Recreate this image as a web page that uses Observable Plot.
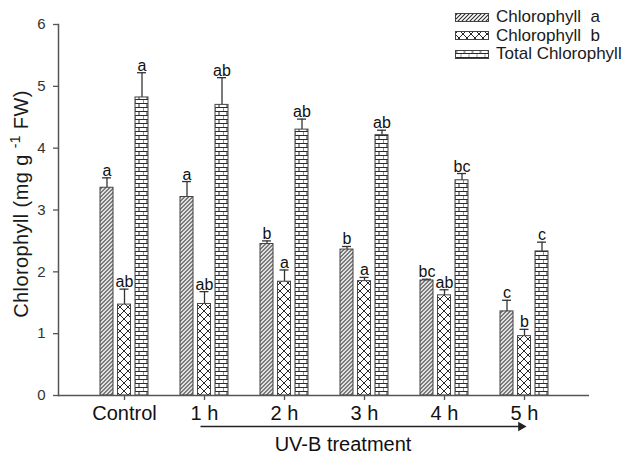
<!DOCTYPE html>
<html><head><meta charset="utf-8">
<script src="https://cdn.jsdelivr.net/npm/d3@7"></script>
<script src="https://cdn.jsdelivr.net/npm/@observablehq/plot@0.6"></script>
<style>
body{margin:0;background:#fff;font-family:"Liberation Sans",Arial,sans-serif;}
#wrap{position:relative;width:627px;height:456px;}
#legend{position:absolute;left:455px;top:8px;font-size:17px;color:#1a1a1a;}
.row{display:flex;align-items:center;height:18.5px;white-space:pre;}
.row svg{margin-right:7px;display:block;}
</style></head><body><div id="wrap"><div id="legend"></div></div>
<script>
// ---- data ----
const groups = ["Control", "1 h", "2 h", "3 h", "4 h", "5 h"];
const seriesNames = ["Chlorophyll  a", "Chlorophyll  b", "Total Chlorophyll"];
const chlA = [3.36, 3.21, 2.45, 2.36, 1.86, 1.36];
const chlAErr = [0.16, 0.25, 0.05, 0.05, 0.02, 0.18];
const chlALetters = ["a", "a", "b", "b", "bc", "c"];
const chlB = [1.47, 1.48, 1.84, 1.85, 1.62, 0.96];
const chlBErr = [0.25, 0.20, 0.19, 0.06, 0.09, 0.11];
const chlBLetters = ["ab", "ab", "a", "a", "ab", "b"];
const chlT = [4.82, 4.70, 4.30, 4.21, 3.48, 2.33];
const chlTErr = [0.40, 0.44, 0.17, 0.08, 0.11, 0.15];
const chlTLetters = ["a", "ab", "ab", "ab", "bc", "c"];
const yTicks = [0, 1, 2, 3, 4, 5, 6];
const yLabelParts = ["Chlorophyll (mg g ", "-1", " FW)"];
const xLabel = "UV-B treatment";

// ---- styling ----
const series = [
  {name: seriesNames[0], values: chlA, errs: chlAErr, letters: chlALetters, pattern: "pat-hatch", dx: -17.5},
  {name: seriesNames[1], values: chlB, errs: chlBErr, letters: chlBLetters, pattern: "pat-cross", dx: 0},
  {name: seriesNames[2], values: chlT, errs: chlTErr, letters: chlTLetters, pattern: "pat-brick", dx: 17.5}
];
const ink = "#333";

const seriesMarks = series.flatMap(s => {
  const rows = groups.map((g, j) => ({group: g, series: s.name, value: s.values[j], top: s.values[j] + s.errs[j], letter: s.letters[j]}));
  return [
    Plot.ruleX(rows, {x: "group", y1: "value", y2: "top", dx: s.dx, stroke: ink, strokeWidth: 1.3}),
    Plot.tickY(rows, {x: "group", y: "top", dx: s.dx, insetLeft: 19.5, insetRight: 19.5, stroke: ink, strokeWidth: 1.3}),
    Plot.barY(rows, {x: "group", y: "value", dx: s.dx, insetLeft: 17.5, insetRight: 17.5, fill: `url(#${s.pattern})`, stroke: "#444", strokeWidth: 1}),
    Plot.text(rows, {x: "group", y: "top", dx: s.dx, dy: -2, text: "letter", lineAnchor: "bottom", fontSize: 16, fill: "#111"})
  ];
});

const yLabelText = yLabelParts.join("");

const plot = Plot.plot({
  width: 627, height: 456,
  marginLeft: 58, marginRight: 38, marginTop: 24, marginBottom: 61,
  style: {fontFamily: "'Liberation Sans', Arial, sans-serif", fontSize: "15px", color: "#1a1a1a", background: "#fff"},
  x: {type: "band", domain: groups, paddingInner: 0.4, paddingOuter: 0.51875},
  y: {domain: [0, 6]},
  marks: [
    ...seriesMarks,
    Plot.ruleY([0], {stroke: "#555", strokeWidth: 1.5}),
    Plot.frame({anchor: "left", stroke: "#555", strokeWidth: 1.5}),
    Plot.axisY({ticks: yTicks, tickFormat: d3.format("d"), tickSize: 5, tickPadding: 8, fontSize: 15, stroke: "#555", strokeWidth: 1.3, fill: "#333", label: null}),
    Plot.axisX({tickSize: 5, tickPadding: 5, fontSize: 20, stroke: "#555", strokeWidth: 1.3, fill: "#111", label: null}),
    Plot.text([yLabelText], {frameAnchor: "left", textAnchor: "middle", rotate: -90, dx: -37, dy: -6, fontSize: 20, fill: "#1a1a1a"}),
    Plot.link([{x1: groups[1], x2: groups[5], y: 0}], {x1: "x1", x2: "x2", y1: "y", y2: "y", dx: -4, dy: 31, stroke: "#222", strokeWidth: 1.5}),
    Plot.dot([{x: groups[5], y: 0}], {x: "x", y: "y", symbol: "triangle", rotate: 90, r: 3.6, fill: "#222", stroke: "none", dx: -3.5, dy: 31}),
    Plot.text([xLabel], {x: () => groups[3], y: () => 0, dx: -21.5, dy: 49, fontSize: 20, fill: "#111"})
  ]
});

// pattern definitions aligned to bar centres
const xs = plot.scale("x");
const c0 = xs.apply(groups[0]) + xs.bandwidth / 2;
const svg = d3.select(plot);
const defs = svg.insert("defs", ":first-child");
function pat(id, w, h, tx, draw, sw) {
  const p = defs.append("pattern").attr("id", id).attr("patternUnits", "userSpaceOnUse")
    .attr("width", w).attr("height", h).attr("patternTransform", `translate(${tx},395)`);
  p.append("rect").attr("width", w).attr("height", h).attr("fill", "#fff");
  p.append("path").attr("d", draw).attr("fill", "none").attr("stroke", "#2a2a2a").attr("stroke-width", sw);
}
pat("pat-hatch", 4, 4, 0, "M-1,1 l2,-2 M0,4 l4,-4 M3,5 l2,-2", 1.1);
pat("pat-cross", 8, 8, c0 - 4, "M-1,-1 L9,9 M9,-1 L-1,9", 1);
pat("pat-brick", 8, 8, c0 + 17.5, "M-1,0.5 H9 M-1,4.5 H9 M0,0.5 V4.5 M4,4.5 V8.5", 1);

// superscript in y label
const yl = svg.selectAll("text").filter(function () { return this.textContent === yLabelText; });
if (!yl.empty()) {
  yl.text(null);
  yl.append("tspan").text(yLabelParts[0]);
  yl.append("tspan").attr("font-size", 14).attr("dy", -8).text(yLabelParts[1]);
  yl.append("tspan").attr("dy", 8).text(yLabelParts[2]);
  yl.attr("letter-spacing", "0.4");
}

document.getElementById("wrap").prepend(plot);
plot.style.display = "block";

// legend
const legend = d3.select("#legend");
series.forEach(s => {
  const row = legend.append("div").attr("class", "row");
  const sw = row.append("svg").attr("width", 34).attr("height", 9);
  sw.append("rect").attr("x", 0.5).attr("y", 0.5).attr("width", 33).attr("height", 8)
    .attr("fill", `url(#${s.pattern})`).attr("stroke", "#444");
  row.append("span").text(s.name);
});
</script></body></html>
